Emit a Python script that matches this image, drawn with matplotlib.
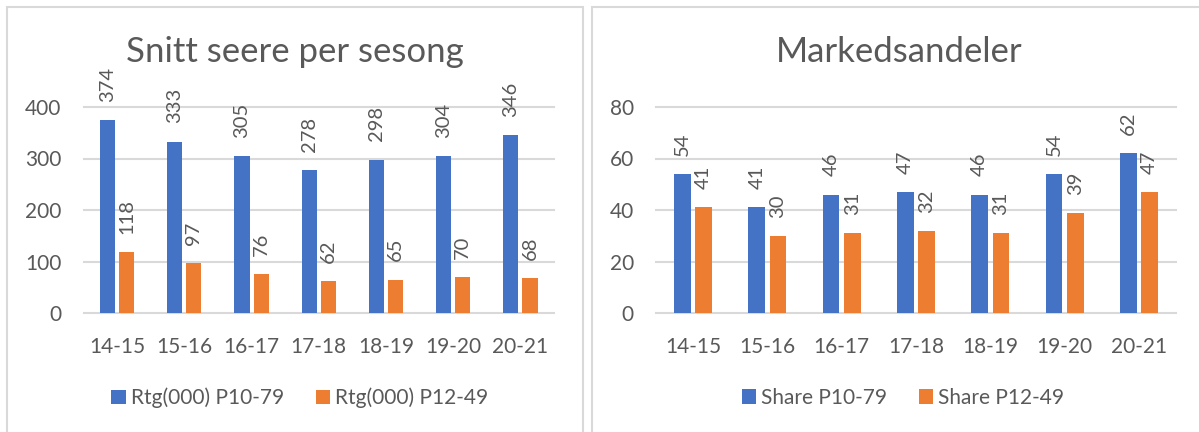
import matplotlib.pyplot as plt
import matplotlib.patches as patches
import numpy as np

plt.rcParams['font.family'] = ['Lato', 'DejaVu Sans']

seasons = ['14-15', '15-16', '16-17', '17-18', '18-19', '19-20', '20-21']

rtg_p1079 = [374, 333, 305, 278, 298, 304, 346]
rtg_p1249 = [118, 97, 76, 62, 65, 70, 68]

share_p1079 = [54, 41, 46, 47, 46, 54, 62]
share_p1249 = [41, 30, 31, 32, 31, 39, 47]

BLUE = '#4472C4'
ORANGE = '#ED7D31'
GRID = '#D9D9D9'
TEXT = '#595959'

W, H = 1199, 432


def draw_panel(ax, s1, s2, ymax, ystep):
    x = np.arange(len(seasons))
    w = 0.225
    off = 0.1425
    b1 = ax.bar(x - off, s1, w, color=BLUE, zorder=3)
    b2 = ax.bar(x + off, s2, w, color=ORANGE, zorder=3)
    ax.bar_label(b1, rotation=90, padding=13, fontsize=14.5, color=TEXT)
    ax.bar_label(b2, rotation=90, padding=13, fontsize=14.5, color=TEXT)

    ax.set_xlim(-0.5, len(seasons) - 0.5)
    ax.set_ylim(0, ymax)
    yt = np.arange(0, ymax + 1, ystep)
    ax.set_yticks(yt)
    # gridlines (drawn unclipped so the top one is not cut in half)
    for y in yt:
        ax.axhline(y, color=GRID, lw=1.5, zorder=1, clip_on=False)
    ax.set_xticks(x)
    ax.set_xticklabels(seasons)
    ax.tick_params(axis='both', length=0, labelsize=15, labelcolor=TEXT)
    ax.tick_params(axis='x', pad=17)
    ax.tick_params(axis='y', pad=16)
    for sp in ax.spines.values():
        sp.set_visible(False)
    return b1, b2


fig = plt.figure(figsize=(W / 100, H / 100), dpi=100)

# panel borders
fig.patches.append(patches.Rectangle((7 / W, -0.1), (583 - 7) / W, 1.1 - 7 / H,
                                     transform=fig.transFigure, fill=False,
                                     edgecolor=GRID, lw=1.5))
fig.patches.append(patches.Rectangle((592 / W, -0.1), 0.6, 1.1 - 7 / H,
                                     transform=fig.transFigure, fill=False,
                                     edgecolor=GRID, lw=1.5))

bottom = (H - 313) / H
height = (313 - 107) / H
ax1 = fig.add_axes([83.5 / W, bottom, (554 - 83.5) / W, height])
ax2 = fig.add_axes([656 / W, bottom, (1176 - 656) / W, height])

h1 = draw_panel(ax1, rtg_p1079, rtg_p1249, 400, 100)
h2 = draw_panel(ax2, share_p1079, share_p1249, 80, 20)

fig.text(295 / W, 1 - 52 / H, 'Snitt seere per sesong', ha='center', va='center',
         fontsize=25, color=TEXT)
fig.text(899 / W, 1 - 52 / H, 'Markedsandeler', ha='center', va='center',
         fontsize=25, color=TEXT)

leg_kw = dict(loc='center', ncol=2, frameon=False, fontsize=15,
              handlelength=0.7, handleheight=0.7, handletextpad=0.25,
              columnspacing=1.5, labelcolor=TEXT)
fig.legend(h1, ['Rtg(000) P10-79', 'Rtg(000) P12-49'],
           bbox_to_anchor=(300 / W, 1 - 398 / H), **leg_kw)
fig.legend(h2, ['Share P10-79', 'Share P12-49'],
           bbox_to_anchor=(903 / W, 1 - 398 / H), **leg_kw)

fig.savefig('out.png', dpi=100)
